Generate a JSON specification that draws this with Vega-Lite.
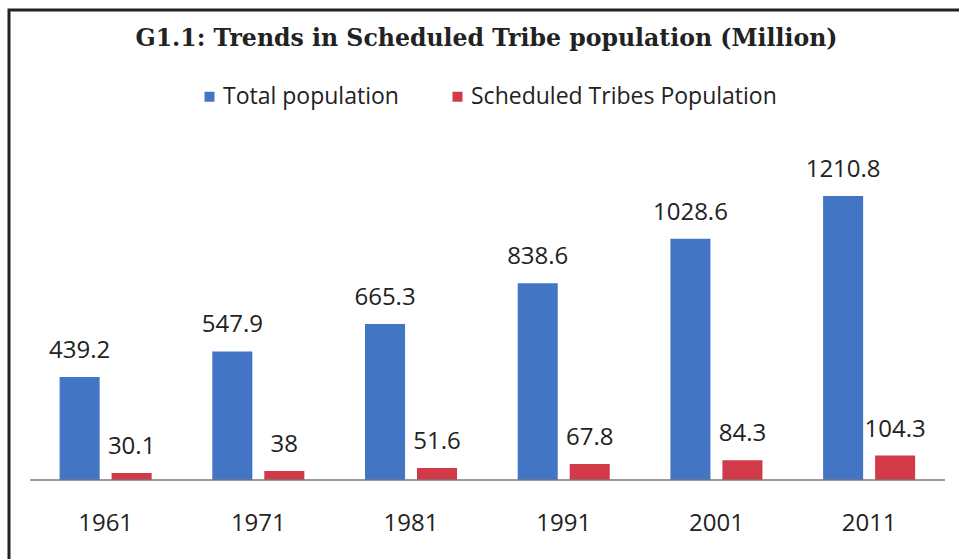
{
  "$schema": "https://vega.github.io/schema/vega-lite/v6.json",
  "autosize": "none",
  "width": 955,
  "height": 560,
  "padding": {"left": 9, "top": 10, "right": 0, "bottom": 0},
  "background": "white",
  "title": {
    "text": "G1.1: Trends in Scheduled Tribe population (Million)",
    "font": "DejaVu Serif",
    "fontSize": 23.6,
    "fontWeight": "bold",
    "color": "#222222",
    "anchor": "middle",
    "offset": -41
  },
  "config": {
    "font": "Open Sans",
    "view": {"stroke": "#222222", "strokeWidth": 3}
  },
  "data": {
    "values": [
      {"year": "1961", "series": "Total population", "value": 439.2},
      {"year": "1961", "series": "Scheduled Tribes Population", "value": 30.1},
      {"year": "1971", "series": "Total population", "value": 547.9},
      {"year": "1971", "series": "Scheduled Tribes Population", "value": 38},
      {"year": "1981", "series": "Total population", "value": 665.3},
      {"year": "1981", "series": "Scheduled Tribes Population", "value": 51.6},
      {"year": "1991", "series": "Total population", "value": 838.6},
      {"year": "1991", "series": "Scheduled Tribes Population", "value": 67.8},
      {"year": "2001", "series": "Total population", "value": 1028.6},
      {"year": "2001", "series": "Scheduled Tribes Population", "value": 84.3},
      {"year": "2011", "series": "Total population", "value": 1210.8},
      {"year": "2011", "series": "Scheduled Tribes Population", "value": 104.3}
    ]
  },
  "encoding": {
    "x": {
      "field": "year",
      "type": "nominal",
      "scale": {"paddingInner": 0.319, "paddingOuter": 0.2866, "align": 0.51},
      "axis": {
        "title": null,
        "orient": "bottom",
        "offset": -90,
        "domain": false,
        "ticks": false,
        "grid": false,
        "labelAngle": 0,
        "labelPadding": 43,
        "labelBaseline": "middle",
        "labelFont": "Open Sans",
        "labelFontSize": 24,
        "labelColor": "#222222"
      }
    },
    "y": {
      "field": "value",
      "type": "quantitative",
      "scale": {"domain": [-383.6, 2003.4], "nice": false, "zero": false},
      "axis": null
    }
  },
  "layer": [
    {
      "mark": {"type": "bar"},
      "encoding": {
        "xOffset": {
          "field": "series",
          "type": "nominal",
          "sort": ["Total population", "Scheduled Tribes Population"],
          "scale": {"paddingInner": 0.23, "paddingOuter": 0.115}
        },
        "y2": {"datum": 0},
        "color": {
          "field": "series",
          "type": "nominal",
          "scale": {
            "domain": ["Total population", "Scheduled Tribes Population"],
            "range": ["#4275c4", "#d23a4a"]
          },
          "legend": {
            "title": null,
            "orient": "none",
            "direction": "horizontal",
            "legendX": 189,
            "legendY": 75,
            "padding": 0,
            "symbolType": "square",
            "symbolSize": 100,
            "symbolStrokeWidth": 0,
            "labelFont": "Open Sans",
            "labelFontSize": 23,
            "labelColor": "#222222",
            "labelOffset": 2,
            "labelLimit": 0,
            "columnPadding": 47
          }
        }
      }
    },
    {
      "mark": {"type": "text", "baseline": "middle", "align": "center", "dy": -26, "fontSize": 24, "font": "Open Sans", "color": "#222222"},
      "encoding": {
        "xOffset": {
          "field": "series",
          "type": "nominal",
          "sort": ["Total population", "Scheduled Tribes Population"],
          "scale": {"paddingInner": 0.23, "paddingOuter": 0.115}
        },
        "text": {"field": "value", "type": "nominal"}
      }
    },
    {
      "data": {"values": [{"base": 0}]},
      "mark": {"type": "rule", "color": "#777777", "strokeWidth": 1.5},
      "encoding": {
        "x": {"datum": "1961", "type": "nominal", "bandPosition": -0.226},
        "x2": {"datum": "2011", "bandPosition": 1.23},
        "y": {"field": "base", "type": "quantitative"}
      }
    }
  ]
}
